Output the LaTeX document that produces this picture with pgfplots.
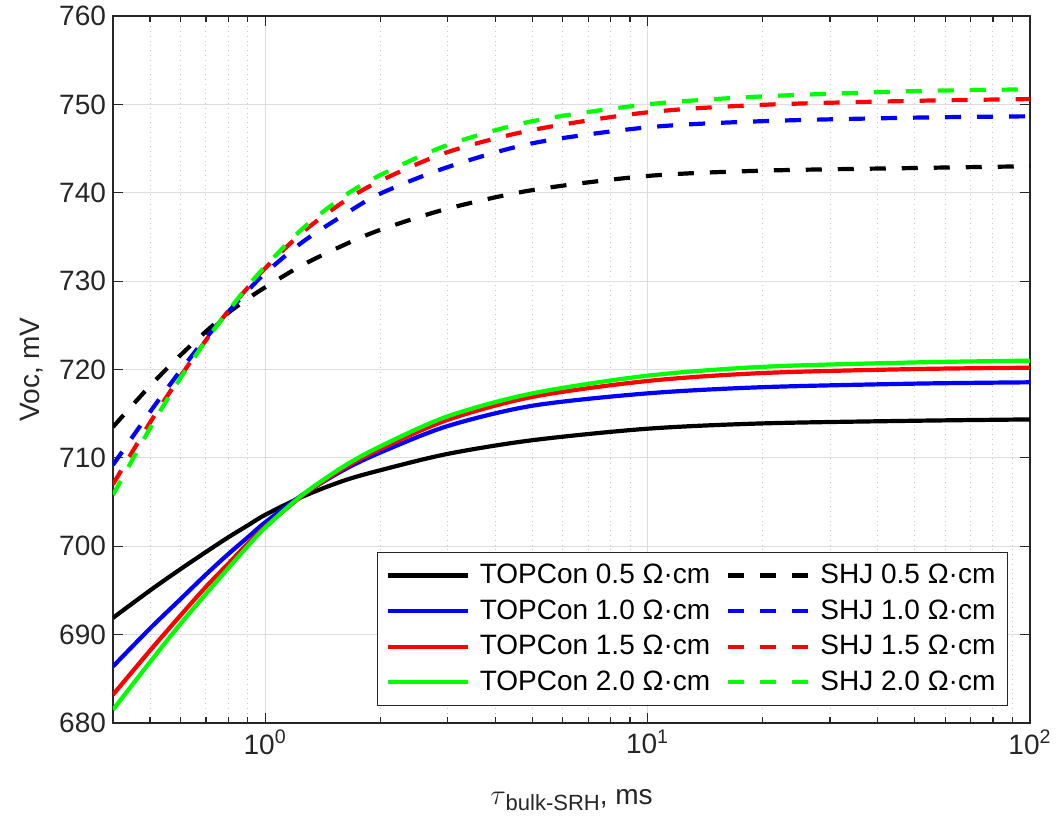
\documentclass[border=0pt]{standalone}
\usepackage{fontspec}
\setmainfont{Liberation Sans}
\usepackage{pgfplots}
\usepackage{pgfplotstable}
\pgfplotsset{compat=1.18}
\definecolor{ax}{RGB}{38,38,38}
\definecolor{grd}{RGB}{222,222,222}
\definecolor{mgrd}{RGB}{200,200,200}
\definecolor{cblue}{RGB}{0,0,255}
\definecolor{cred}{RGB}{255,0,0}
\definecolor{cgreen}{RGB}{0,255,0}
\pgfplotstableread{
tau   T05    T10    T15    T20    S05    S10    S15    S20
0.4   691.9  686.4  683.2  681.5  713.5  709.2  707.0  705.8
0.5   695.0  690.7  688.2  686.9  718.15 715.2  714.0  713.35
0.6   697.4  694.0  692.15 691.2  721.6  719.85 719.2  719.0
0.7   699.35 696.8  695.4  694.6  724.3  723.55 723.3  723.25
0.8   701.0  699.1  698.0  697.5  726.4  726.5  726.6  726.6
0.9   702.35 701.0  700.3  700.0  728.0  728.9  729.25 729.4
1.0   703.55 702.7  702.2  702.1  729.3  730.9  731.45 731.65
1.25  705.6  705.8  705.7  705.8  731.8  734.4  735.5  735.9
1.6   707.4  708.6  708.8  709.0  734.05 737.45 738.95 739.55
2     708.6  710.6  711.0  711.3  735.8  739.9  741.35 742.0
3     710.45 713.6  714.3  714.7  738.2  742.9  744.6  745.4
5     712.0  715.9  716.9  717.3  740.3  745.6  747.1  748.1
10    713.3  717.3  718.7  719.3  741.9  747.4  749.1  750.0
20    713.9  718.0  719.6  720.3  742.5  748.1  749.95 750.9
50    714.2  718.4  720.05 720.8  742.8  748.5  750.4  751.5
100   714.35 718.55 720.2  721.0  743.0  748.65 750.6  751.7
}\datatable
\begin{document}
\begin{tikzpicture}
\begin{axis}[
  scale only axis, width=458.5pt, height=353.5pt,
  xmode=log, log basis x=10,
  xmin=0.4, xmax=100, ymin=680, ymax=760,
  xtick={1,10,100},
  xticklabels={10\textsuperscript{0},10\textsuperscript{1},10\textsuperscript{2}},
  minor xtick={0.4,0.5,0.6,0.7,0.8,0.9,2,3,4,5,6,7,8,9,20,30,40,50,60,70,80,90},
  ytick={680,690,...,760},
  /pgf/number format/assume math mode=true,
  tick label style={font=\fontsize{14}{16}\selectfont, text=ax},
  label style={font=\fontsize{14}{16}\selectfont, text=ax},
  xmajorgrids, xminorgrids, ymajorgrids,
  major grid style={grd, line width=0.6pt},
  minor grid style={mgrd, dotted, line width=0.5pt},
  axis line style={ax, line width=0.8pt},
  tick style={ax, line width=0.6pt},
  major tick length=5pt, minor tick length=3pt,
  tick align=inside, tick pos=both,
  xlabel={$\tau$\raisebox{-0.45ex}{\fontsize{11}{12}\selectfont bulk-SRH}, ms},
  ylabel={Voc, mV},
  xlabel style={at={(axis description cs:0.5,-0.109)}, anchor=center},
  ylabel style={at={(axis description cs:-0.0883,0.5)}, anchor=center},
  legend columns=2,
  legend cell align=left,
  legend image code/.code={\draw[#1] (0pt,0pt) -- (40pt,0pt);},
  legend style={at={(axis description cs:0.976,0.024)}, anchor=south east,
    draw=ax, line width=0.6pt, fill=white,
    font=\fontsize{14}{16}\selectfont, text=black,
    /tikz/every even column/.append style={column sep=6pt},
    /tikz/every odd column/.append style={column sep=3pt},
    row sep=2.5pt, inner xsep=4pt, inner ysep=4pt},
  every axis plot/.append style={line width=2.1pt},
]
\addplot[black, smooth] table[x=tau, y=T05] {\datatable};
\addlegendentry{TOPCon 0.5 Ω·cm}
\addplot[black, smooth, dash pattern=on 8pt off 8pt] table[x=tau, y=S05] {\datatable};
\addlegendentry{SHJ 0.5 Ω·cm}
\addplot[cblue, smooth] table[x=tau, y=T10] {\datatable};
\addlegendentry{TOPCon 1.0 Ω·cm}
\addplot[cblue, smooth, dash pattern=on 8pt off 8pt] table[x=tau, y=S10] {\datatable};
\addlegendentry{SHJ 1.0 Ω·cm}
\addplot[cred, smooth] table[x=tau, y=T15] {\datatable};
\addlegendentry{TOPCon 1.5 Ω·cm}
\addplot[cred, smooth, dash pattern=on 8pt off 8pt] table[x=tau, y=S15] {\datatable};
\addlegendentry{SHJ 1.5 Ω·cm}
\addplot[cgreen, smooth] table[x=tau, y=T20] {\datatable};
\addlegendentry{TOPCon 2.0 Ω·cm}
\addplot[cgreen, smooth, dash pattern=on 8pt off 8pt] table[x=tau, y=S20] {\datatable};
\addlegendentry{SHJ 2.0 Ω·cm}
\end{axis}
\pgfresetboundingbox
\path ([shift={(-56.5pt,-54.5pt)}]current axis.south west) rectangle ([shift={(13.5pt,8pt)}]current axis.north east);
\end{tikzpicture}
\end{document}
